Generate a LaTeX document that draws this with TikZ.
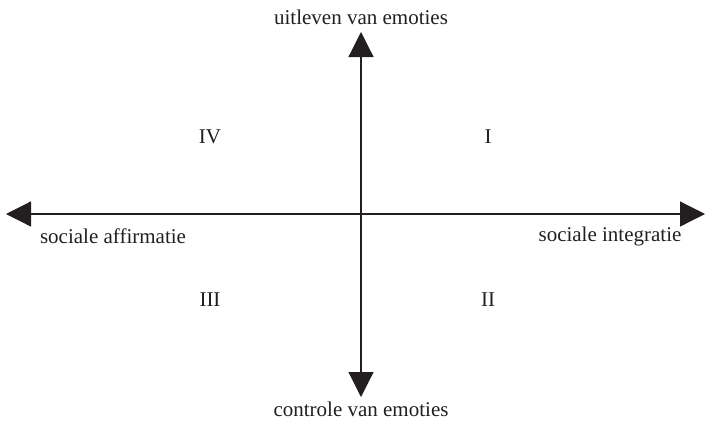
\documentclass[tikz,border=0pt]{standalone}
\usepackage{fontspec}
\setmainfont{Liberation Serif}
\usepackage{tikz}
\usetikzlibrary{arrows.meta,positioning}
\definecolor{cAxis}{HTML}{231F20}
\definecolor{cText}{HTML}{231F20}
\tikzset{
  axis/.style={{Triangle[length=25pt, width=25pt]}-{Triangle[length=25pt, width=25pt]},
               line width=1.2pt, draw=cAxis},
  lbl/.style={font=\fontsize{21}{25}\selectfont, text=cText, inner sep=0pt},
  quad/.style={lbl},
}

\begin{document}
\begin{tikzpicture}[x=1pt, y=-1pt]
  \useasboundingbox (0,0) rectangle (706,421);
  % axis end points
  \coordinate (west) at (6,214);
  \coordinate (east) at (705,214);
  \coordinate (north) at (361,32);
  \coordinate (south) at (361,397);

  \node[lbl] (up) at (361,17) {uitleven van emoties};
  \node[lbl] (down) at (361,409) {controle van emoties};
  \node[lbl] (aff) at (113,236) {sociale affirmatie};
  \node[lbl] (int) at (610,236) {sociale integratie};

  \node[quad] (q1) at (488,137) {I};
  \node[quad] (q2) at (488,300) {II};
  \node[quad] (q3) at (210,300) {III};
  \node[quad] (q4) at (210,137) {IV};

  \draw[axis] (west) -- (east);
  \draw[axis] (north) -- (south);
\end{tikzpicture}
\end{document}
